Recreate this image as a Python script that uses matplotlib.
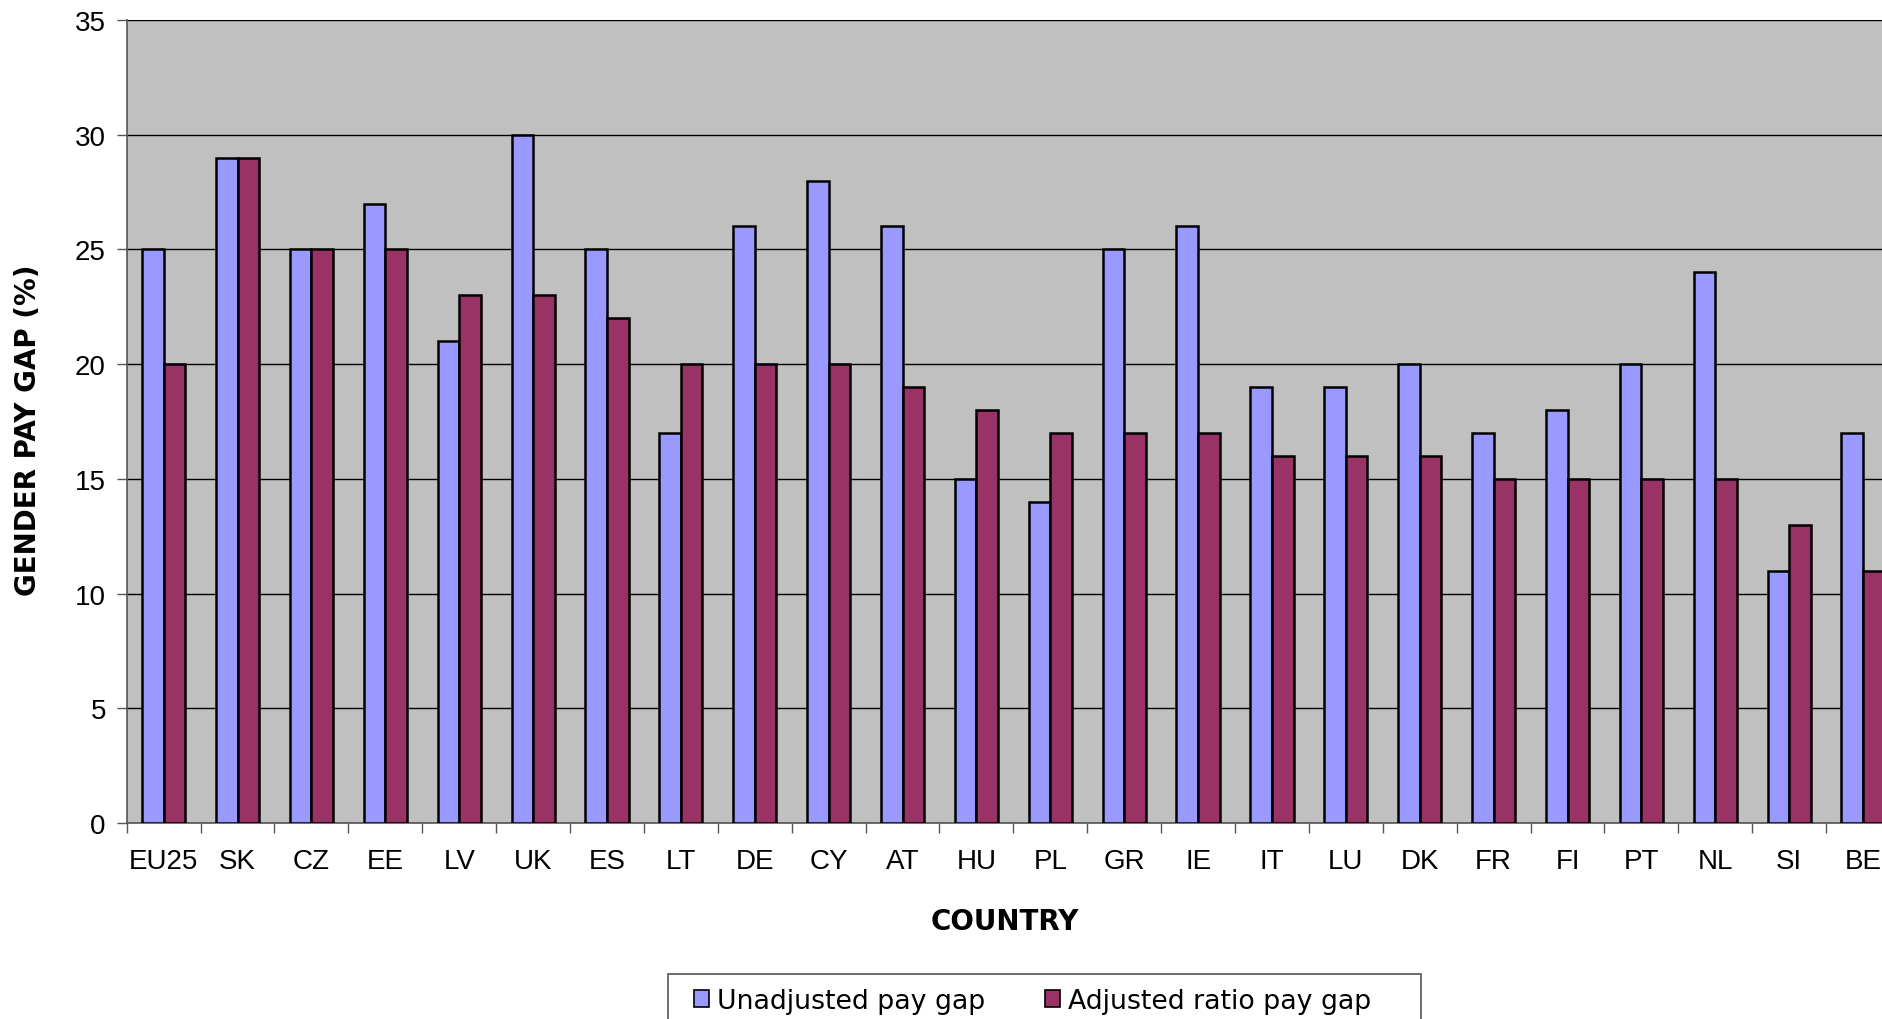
import numpy as np
import matplotlib
matplotlib.use("Agg")
from matplotlib import pyplot as plt
from matplotlib.patches import Patch, Rectangle

# Data
countries = ["EU25", "SK", "CZ", "EE", "LV", "UK", "ES", "LT", "DE", "CY", "AT", "HU",
             "PL", "GR", "IE", "IT", "LU", "DK", "FR", "FI", "PT", "NL", "SI", "BE"]
unadjusted = [25, 29, 25, 27, 21, 30, 25, 17, 26, 28, 26, 15,
              14, 25, 26, 19, 19, 20, 17, 18, 20, 24, 11, 17]
adjusted = [20, 29, 25, 25, 23, 23, 22, 20, 20, 20, 19, 18,
            17, 17, 17, 16, 16, 16, 15, 15, 15, 15, 13, 11]
series_names = ["Unadjusted pay gap", "Adjusted ratio pay gap"]

# Colors
BLUE = "#9999FF"
PLUM = "#993366"
GREY = "#C0C0C0"

W, H = 1883, 1020
fig = plt.figure(figsize=(W / 100, H / 100), dpi=100)
ax = fig.add_axes([126.7 / W, 1 - 824 / H, 1 - 126.7 / W, (824 - 21) / H])

x = np.arange(len(countries))
bw = 0.292
ax.bar(x - bw / 2, unadjusted, bw, color=BLUE, edgecolor="black", linewidth=1.8, zorder=3)
ax.bar(x + bw / 2, adjusted, bw, color=PLUM, edgecolor="black", linewidth=1.8, zorder=3)

ax.set_facecolor(GREY)
ax.grid(axis="y", color="black", linewidth=1.0, zorder=1)

# category ticks sit between groups, labels in the middle
ax.set_xticks(np.arange(-0.5, len(countries), 1.0))
ax.set_xticklabels([])
ax.set_xticks(x, minor=True)
ax.set_xticklabels(countries, minor=True, fontsize=20, family="Liberation Sans")
ax.set_yticks(range(0, 36, 5))
# limits after ticks, set_xticks would widen them otherwise
ax.set_xlim(-0.5, 23.27)
ax.set_ylim(0, 35)
ax.tick_params(axis="x", which="minor", length=0, pad=18)
ax.tick_params(axis="x", which="major", length=7, width=1, color="#555555")
ax.tick_params(axis="y", length=7, width=1, color="#555555", labelsize=20, pad=8)
for lab in ax.get_yticklabels():
    lab.set_family("Liberation Sans")

for side in ["top", "right"]:
    ax.spines[side].set_visible(False)
ax.spines["left"].set_color("#555555")
ax.spines["bottom"].set_color("#555555")
ax.spines["left"].set_linewidth(1.2)
ax.spines["bottom"].set_linewidth(1.2)

fig.text(28 / W, 1 - 430 / H, "GENDER PAY GAP (%)", rotation=90, ha="center", va="center",
         fontsize=20, fontweight="bold", family="DejaVu Sans")
fig.text(1005 / W, 1 - 922 / H, "COUNTRY", ha="center", va="center",
         fontsize=20, fontweight="bold", family="DejaVu Sans")

# legend box runs off the bottom of the picture
fig.patches.append(Rectangle((668 / W, -0.05), 753 / W, 0.05 + 1 - 975 / H,
                             transform=fig.transFigure, facecolor="white",
                             edgecolor="#555555", linewidth=1.2, zorder=0))
handles = [Patch(facecolor=BLUE, edgecolor="black", linewidth=1.2),
           Patch(facecolor=PLUM, edgecolor="black", linewidth=1.2)]
leg = fig.legend(handles, series_names, loc="center left",
                 bbox_to_anchor=(694 / W, 1 - 1002 / H), ncol=2, frameon=False,
                 handlelength=0.55, handleheight=0.55, handletextpad=0.3,
                 columnspacing=2.25, borderpad=0, borderaxespad=0,
                 prop={"family": "DejaVu Sans", "size": 19.3})

fig.savefig("out.png", dpi=100)
